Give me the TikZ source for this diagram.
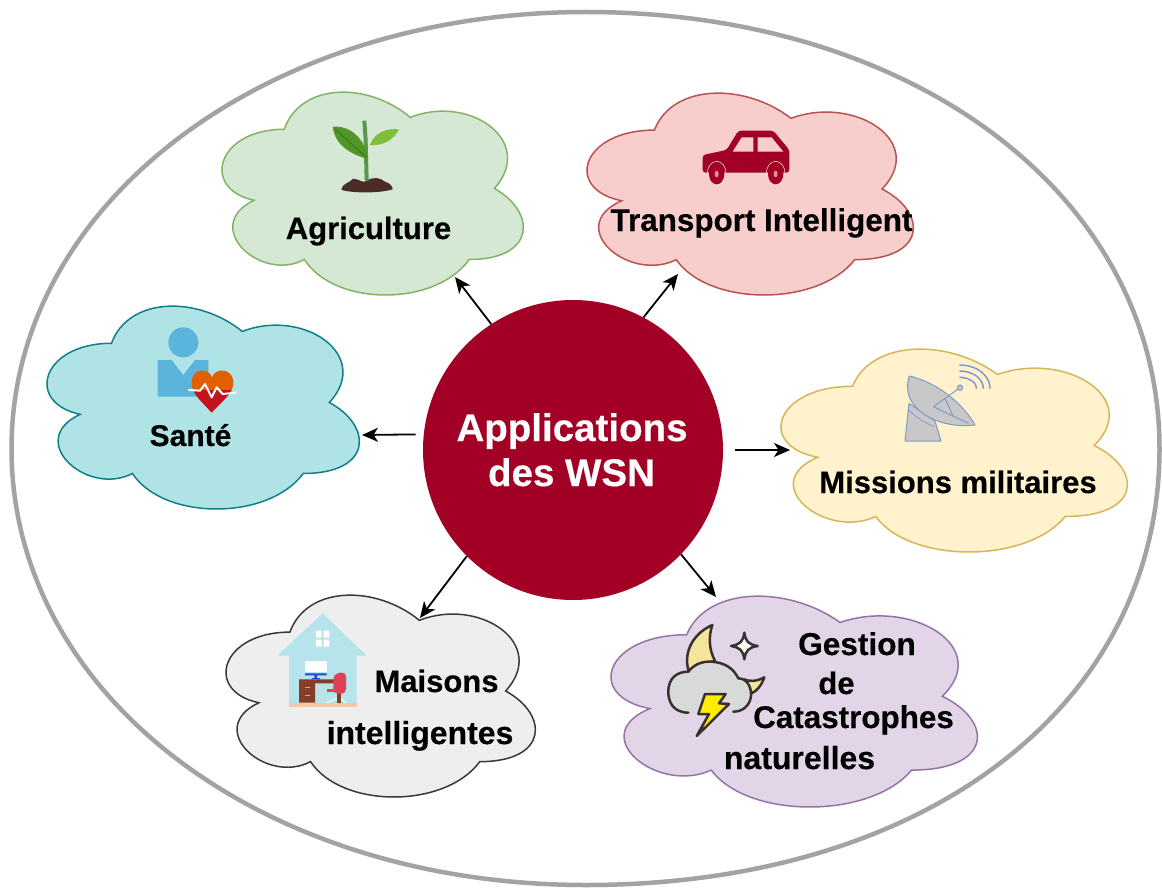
\documentclass[tikz,border=0pt]{standalone}
\usepackage{fontspec}
\setmainfont[BoldFeatures={FakeBold=0.35}]{Liberation Sans}
\usetikzlibrary{arrows.meta}
\definecolor{hubred}{HTML}{A20025}
\definecolor{ringgrey}{HTML}{A3A3A3}
\definecolor{greenF}{HTML}{D5E8D4}\definecolor{greenS}{HTML}{82B366}
\definecolor{redF}{HTML}{F8CECC}\definecolor{redS}{HTML}{B85450}
\definecolor{tealF}{HTML}{B0E3E6}\definecolor{tealS}{HTML}{0E8088}
\definecolor{yellowF}{HTML}{FFF2CC}\definecolor{yellowS}{HTML}{D6B656}
\definecolor{greyF}{HTML}{EEEEEE}\definecolor{greyS}{HTML}{36393D}
\definecolor{purpleF}{HTML}{E1D5E7}\definecolor{purpleS}{HTML}{9673A6}
\definecolor{ink}{HTML}{3A3030}
\newcommand{\wsncloud}[6]{%
  \pgfmathsetmacro{\cw}{(#3-#1)/0.895}%
  \pgfmathsetmacro{\ch}{(#4-#2)/0.8575}%
  \pgfmathsetmacro{\cx}{#1-0.065*\cw}%
  \pgfmathsetmacro{\cy}{#2-0.0925*\ch}%
  \begin{scope}[shift={(\cx,\cy)},xscale=\cw,yscale=\ch]
  \draw[cloudline,fill=#5,draw=#6] (.25,.25)
    .. controls (.05,.25) and (0,.5) .. (.16,.55)
    .. controls (0,.66) and (.18,.9) .. (.31,.8)
    .. controls (.4,1) and (.7,1) .. (.8,.8)
    .. controls (1,.8) and (1,.6) .. (.875,.5)
    .. controls (1,.3) and (.8,.1) .. (.625,.2)
    .. controls (.5,.05) and (.3,.05) .. (.25,.25) -- cycle;
  \end{scope}}
\tikzset{
  cloudline/.style={line width=1.5pt},
  lab/.style={anchor=base,inner sep=0pt,font=\fontsize{#1}{#1}\selectfont\bfseries,text=black},
  hublab/.style={anchor=base,inner sep=0pt,font=\fontsize{38.5}{38.5}\selectfont\bfseries,text=white},
  conn/.style={line width=1.8pt,black,-{Stealth[length=16pt,width=14pt,inset=4.5pt]}},
  icon/.style={scale=1/3}
}
\begin{document}
\begin{tikzpicture}[x=1pt,y=-1pt]
\useasboundingbox (0,0) rectangle (1162,888);
% outer ring
\draw[ringgrey,line width=4.5pt,fill=white] (586,12)
  .. controls (916,12) and (1159.5,197.5) .. (1159.5,448.5)
  .. controls (1159.5,706) and (925,885) .. (586,885)
  .. controls (261.4,885) and (11.5,695) .. (11.5,448.5)
  .. controls (11.5,204) and (264.3,12) .. (586,12) -- cycle;
% clouds
\wsncloud{222}{92}{523}{295}{greenF}{greenS}
\wsncloud{587}{93}{913}{295}{redF}{redS}
\wsncloud{47}{306}{359}{509}{tealF}{tealS}
\wsncloud{781}{349}{1127}{552}{yellowF}{yellowS}
\wsncloud{226}{595}{535}{797}{greyF}{greyS}
\wsncloud{611}{596}{977}{807}{purpleF}{purpleS}
% plant icon
\begin{scope}[shift={(220,90)},icon]
  \fill[color={rgb,255:red,75;green,45;blue,40}] (365,295) .. controls (368,282) and (385,280) .. (400,266) .. controls (420,268) and (430,282) .. (440,272) .. controls (460,260) and (480,262) .. (495,275) .. controls (510,280) and (518,288) .. (518,298) .. controls (480,310) and (400,310) .. (365,300) -- cycle;
  \draw[color={rgb,255:red,90;green,150;blue,75},line width=4pt] (433,92) -- (437,150) -- (440,272);
  \fill[color={rgb,255:red,80;green,150;blue,40}] (338,110) .. controls (400,105) and (440,160) .. (443,207) .. controls (400,195) and (345,170) .. (338,110) -- cycle;
  \draw[color={rgb,255:red,50;green,115;blue,30},line width=.8pt] (345,117) -- (440,203);
  \fill[color={rgb,255:red,125;green,190;blue,60}] (450,165) .. controls (465,125) and (500,115) .. (537,118) .. controls (520,150) and (490,168) .. (450,165) -- cycle;
\end{scope}
% car icon
\begin{scope}[shift={(580,90)},icon]
  \fill[hubred,rounded corners=3pt] (368,195) -- (440,180) -- (475,122) -- (580,122) -- (628,180) -- (628,248) -- (368,248) -- cycle;
  \fill[redF] (458,185) -- (485,142) -- (520,142) -- (520,185) -- cycle;
  \fill[redF] (533,142) -- (575,142) -- (610,185) -- (533,185) -- cycle;
  \foreach \wx in {410,587}{
    \draw[redF,line width=.6pt] (\wx,250) ellipse [x radius=28,y radius=36];
    \fill[hubred] (\wx,252) ellipse [x radius=23,y radius=31];
    \fill[redF!70!hubred] (\wx,252) ellipse [x radius=6,y radius=10];
  }
\end{scope}
% health icon
\begin{scope}[shift={(40,300)},icon]
  \definecolor{skyb}{HTML}{5AB4DC}
  \fill[skyb] (430,127) circle (45);
  \fill[skyb] (353,180) -- (395,180) -- (430,225) -- (465,180) -- (505,180) -- (505,290) -- (353,290) -- cycle;
  \begin{scope}
    \clip (400,190) rectangle (620,272);
    \fill[color={rgb,255:red,225;green,95;blue,0}] (515,338) .. controls (480,300) and (455,280) .. (455,248) .. controls (455,205) and (505,200) .. (516,232) .. controls (527,200) and (580,205) .. (580,248) .. controls (580,280) and (550,300) .. (515,338) -- cycle;
  \end{scope}
  \begin{scope}
    \clip (400,272) rectangle (620,350);
    \fill[color={rgb,255:red,195;green,20;blue,30}] (515,338) .. controls (480,300) and (455,280) .. (455,248) .. controls (455,205) and (505,200) .. (516,232) .. controls (527,200) and (580,205) .. (580,248) .. controls (580,280) and (550,300) .. (515,338) -- cycle;
  \end{scope}
  \draw[white,line width=2pt,line join=round] (445,270) -- (480,272) -- (495,252) -- (515,292) -- (530,262) -- (548,282) -- (588,278);
\end{scope}
% dish icon
\begin{scope}[shift={(775,345)},icon]
  \definecolor{dishS}{HTML}{7F9AC8}
  \definecolor{dishF}{HTML}{C8C8C8}
  \draw[dishS,fill=dishF,line width=1pt,line join=round] (402,175) -- (390,288) -- (498,288) -- (480,228) -- cycle;
  \draw[dishS,fill=dishF,line width=1pt,line join=round] (403,93) .. controls (480,110) and (560,170) .. (600,240) .. controls (520,250) and (440,220) .. (410,170) .. controls (395,145) and (395,115) .. (403,93) -- cycle;
  \draw[dishS,line width=.7pt] (402,195) .. controls (420,215) and (450,235) .. (480,245);
  \draw[dishS,line width=1pt] (475,185) -- (555,128) (510,160) -- (535,215) (475,185) -- (580,235);
  \draw[dishS,fill=dishF,line width=1pt] (555,128) circle (8);
  \draw[dishS,line width=1.5pt] (553,97) .. controls (582,97) and (605,112) .. (605,131);
  \draw[dishS,line width=1.5pt] (553,78) .. controls (593,78) and (625,100) .. (625,131);
  \draw[dishS,line width=1.5pt] (553,60) .. controls (605,60) and (645,90) .. (645,131);
\end{scope}
% house icon
\begin{scope}[shift={(220,590)},icon]
  \definecolor{houseF}{HTML}{B7E3EA}
  \fill[houseF] (172,197) -- (308,70) -- (440,197) -- (410,197) -- (410,345) -- (207,345) -- (207,197) -- cycle;
  \fill[color={rgb,255:red,245;green,200;blue,160}] (207,340) rectangle (410,352);
  \fill[white] (288,122) rectangle (305,143) (311,122) rectangle (328,143) (288,149) rectangle (305,170) (311,149) rectangle (328,170);
  \fill[white] (254,212) rectangle (320,247);
  \fill[color={rgb,255:red,40;green,70;blue,210}] (255,250) rectangle (320,256) (283,256) rectangle (291,265) (275,264) rectangle (300,268);
  \fill[color={rgb,255:red,135;green,60;blue,40}] (237,268) rectangle (345,280) (237,280) rectangle (285,338);
  \draw[color={rgb,255:red,215;green,170;blue,140},line width=.7pt] (255,292) -- (270,292) (255,316) -- (270,316);
  \draw[white,line width=1pt] (320,338) -- (358,322) -- (378,338);
  \fill[color={rgb,255:red,135;green,60;blue,40}] (352,306) rectangle (362,338);
  \fill[color={rgb,255:red,225;green,65;blue,85},rounded corners=5pt] (340,300) -- (340,252) -- (378,245) -- (378,312) -- (342,312) -- cycle;
  \fill[color={rgb,255:red,225;green,65;blue,85}] (320,296) rectangle (345,306);
\end{scope}
% storm icon
\begin{scope}[shift={(605,590)},icon]
  \definecolor{moonF}{HTML}{F3E69A}
  \definecolor{stormF}{HTML}{D8DADA}
  \draw[ink,fill=moonF,line width=2.5pt,line join=round] (322,105) .. controls (265,130) and (235,185) .. (250,240) -- (330,212) .. controls (312,180) and (310,140) .. (322,105) -- cycle;
  \draw[ink,fill=moonF,line width=2.5pt,line join=round] (478,262) .. controls (455,275) and (430,275) .. (418,268) -- (435,312) .. controls (455,305) and (470,285) .. (478,262) -- cycle;
  \fill[stormF] (250,368) .. controls (205,368) and (188,335) .. (190,300) .. controls (192,265) and (215,245) .. (250,245) .. controls (265,225) and (290,213) .. (320,215) .. controls (360,218) and (385,235) .. (400,265) .. controls (425,265) and (440,290) .. (438,318) .. controls (435,345) and (415,365) .. (385,365) -- cycle;
  \draw[ink,line width=2.5pt,line cap=round] (250,368) .. controls (205,368) and (188,335) .. (190,300) .. controls (192,265) and (215,245) .. (250,245) .. controls (265,225) and (290,213) .. (320,215) .. controls (360,218) and (385,235) .. (400,265) .. controls (425,265) and (440,290) .. (438,318) .. controls (435,345) and (415,365) .. (385,365);
  \draw[ink,fill=yellow!95!orange,line width=2.5pt,line join=round] (300,312) -- (362,312) -- (342,340) -- (372,342) -- (275,438) -- (312,372) -- (280,372) -- cycle;
  \draw[ink,fill=white,line width=2.5pt,line join=round] (418,128) .. controls (422,155) and (430,163) .. (458,168) .. controls (430,173) and (422,181) .. (418,208) .. controls (414,181) and (406,173) .. (378,168) .. controls (406,163) and (414,155) .. (418,128) -- cycle;
\end{scope}
% hub and connectors
\node[circle,fill=hubred,minimum size=300pt,inner sep=0pt] (hub) at (573,450) {};
\coordinate (tipAgri) at (455,277);
\coordinate (tipTrans) at (678,274);
\coordinate (tipSante) at (362,435);
\coordinate (tipMil) at (790,450);
\coordinate (tipHome) at (420,618);
\coordinate (tipCat) at (716,597);
\draw[conn] (hub.123.6) -- (tipAgri);
\draw[conn] (hub.62) -- (tipTrans);
\draw[conn,shorten <=8pt] (hub.174.3) -- (tipSante);
\draw[conn,shorten <=12pt] (hub.0) -- (tipMil);
\draw[conn] (hub.225.3) -- (tipHome);
\draw[conn] (hub.-44.7) -- (tipCat);
% labels
\node[hublab] (tApp) at (572,441) {Applications};
\node[hublab] (tDes) at (571.5,486) {des WSN};
\node[lab=31] (tAgri) at (368.5,239) {Agriculture};
\node[lab=31.4] (tTrans) at (761.5,231) {Transport Intelligent};
\node[lab=30] (tSante) at (190.5,446) {Santé};
\node[lab=31] (tMil) at (958,493) {Missions militaires};
\node[lab=31] (tMai) at (436.5,692) {Maisons};
\node[lab=32] (tInt) at (420,744) {intelligentes};
\node[lab=31.6] (tGes) at (857,655) {Gestion};
\node[lab=31] (tDe) at (836.5,694) {de};
\node[lab=31.4] (tCat) at (853.5,728) {Catastrophes};
\node[lab=32] (tNat) at (799.5,769) {naturelles};
\end{tikzpicture}
\end{document}
